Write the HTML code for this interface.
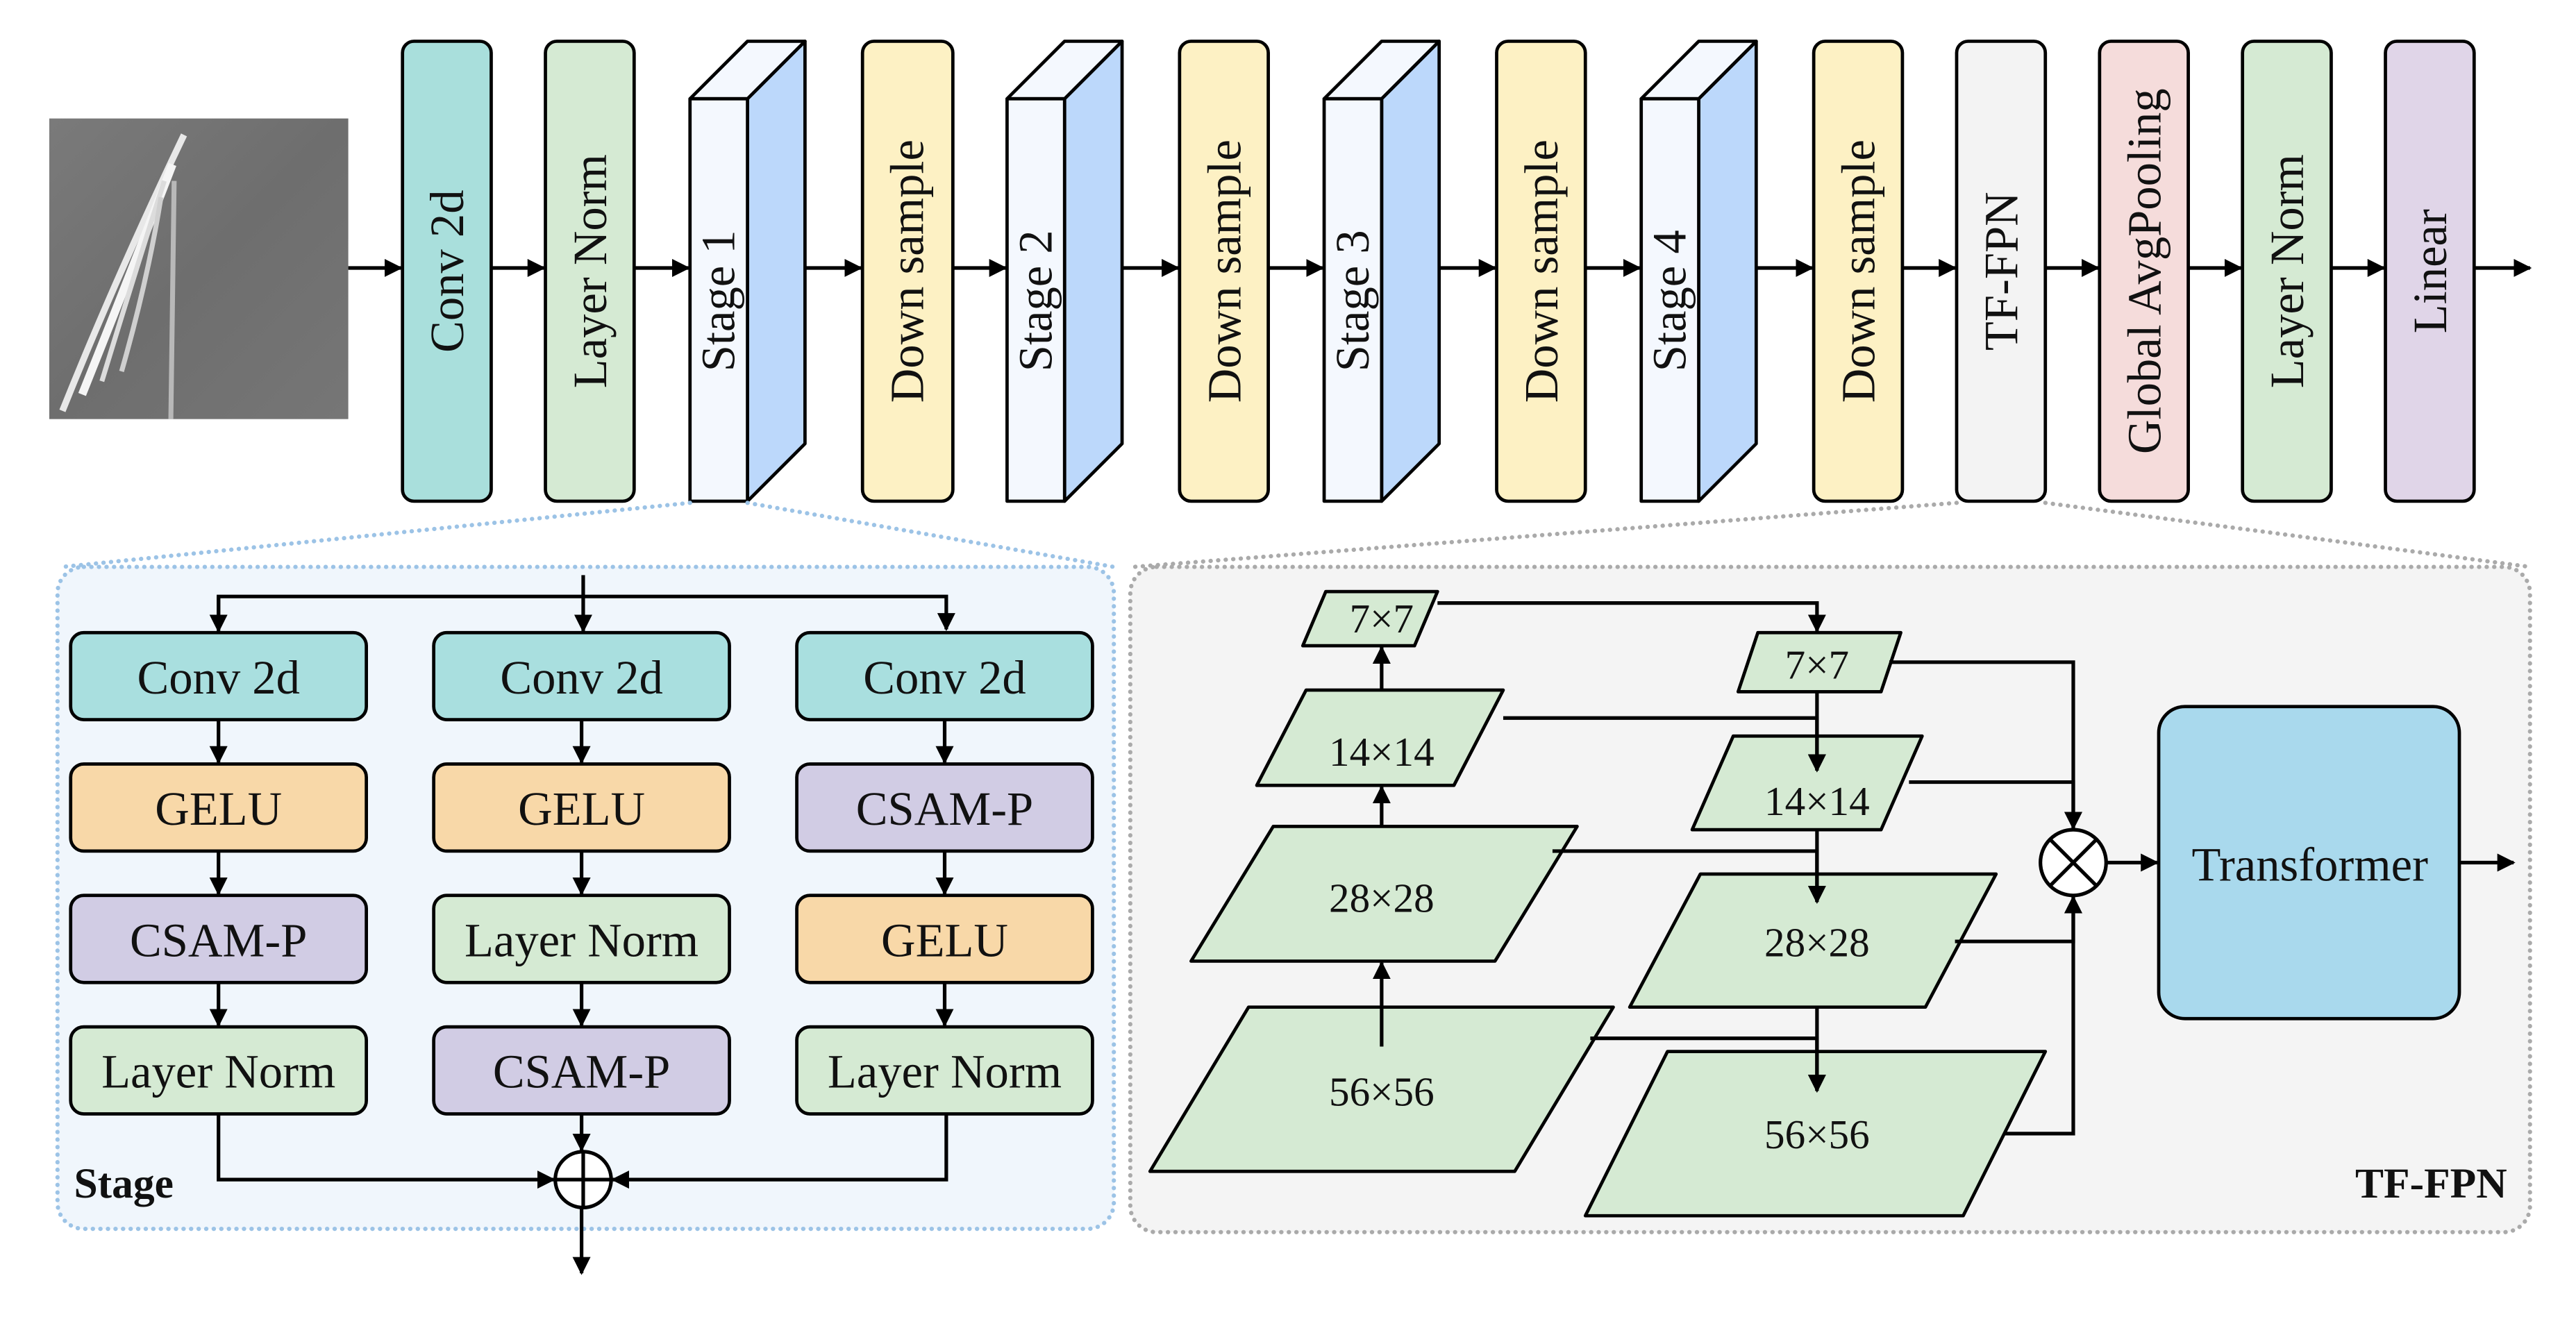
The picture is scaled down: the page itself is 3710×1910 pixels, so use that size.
<!DOCTYPE html>
<html><head><meta charset="utf-8"><style>
html,body{margin:0;padding:0;background:#fff}
svg{display:block}
text{font-family:"Liberation Serif","Times New Roman",serif;fill:#111}
</style></head><body>
<svg width="3710" height="1910" viewBox="0 0 1568 807" xmlns="http://www.w3.org/2000/svg" font-family="Liberation Serif, serif">
<defs>
<marker id="a" viewBox="0 0 10 10" refX="9" refY="5" markerWidth="5" markerHeight="5" orient="auto"><path d="M0,0L10,5L0,10z" fill="#000"/></marker>
<linearGradient id="img" x1="0" y1="0" x2="1" y2="1"><stop offset="0" stop-color="#7a7a7a"/><stop offset="0.5" stop-color="#6e6e6e"/><stop offset="1" stop-color="#767676"/></linearGradient>
</defs>
<rect x="30" y="72" width="182" height="183" fill="url(#img)"/>
<path d="M38,250 Q70,170 112,82" stroke="#e8e8e8" stroke-width="4" fill="none"/>
<path d="M50,240 Q78,170 105,100" stroke="#f5f5f5" stroke-width="5" fill="none"/>
<path d="M62,232 Q84,160 100,110" stroke="#dcdcdc" stroke-width="3" fill="none"/>
<path d="M74,226 Q90,170 98,120" stroke="#cfcfcf" stroke-width="3" fill="none"/>
<path d="M106,110 L104,255" stroke="#b8b8b8" stroke-width="3" fill="none"/>
<g stroke="#000" stroke-width="2.2" fill="none" marker-end="url(#a)">
<line x1="212" y1="163" x2="244" y2="163"/><line x1="299" y1="163" x2="331" y2="163"/>
<line x1="386" y1="163" x2="419" y2="163"/><line x1="490" y1="163" x2="524" y2="163"/>
<line x1="580" y1="163" x2="612" y2="163"/><line x1="683" y1="163" x2="717" y2="163"/>
<line x1="772" y1="163" x2="805" y2="163"/><line x1="876" y1="163" x2="910" y2="163"/>
<line x1="965" y1="163" x2="998" y2="163"/><line x1="1069" y1="163" x2="1103" y2="163"/>
<line x1="1158" y1="163" x2="1190" y2="163"/><line x1="1245" y1="163" x2="1277" y2="163"/>
<line x1="1332" y1="163" x2="1364" y2="163"/><line x1="1419" y1="163" x2="1451" y2="163"/>
<line x1="1506" y1="163" x2="1540" y2="163"/>
</g>
<g stroke="#000" stroke-width="2">
<rect x="245" y="25" width="54" height="280" rx="7" fill="#a9dfdc"/>
<rect x="332" y="25" width="54" height="280" rx="7" fill="#d5ead3"/>
<rect x="525" y="25" width="55" height="280" rx="7" fill="#fdf1c4"/>
<rect x="718" y="25" width="54" height="280" rx="7" fill="#fdf1c4"/>
<rect x="911" y="25" width="54" height="280" rx="7" fill="#fdf1c4"/>
<rect x="1104" y="25" width="54" height="280" rx="7" fill="#fdf1c4"/>
<rect x="1191" y="25" width="54" height="280" rx="7" fill="#f3f3f3"/>
<rect x="1278" y="25" width="54" height="280" rx="7" fill="#f5dcdb"/>
<rect x="1365" y="25" width="54" height="280" rx="7" fill="#d5ead3"/>
<rect x="1452" y="25" width="54" height="280" rx="7" fill="#e0d5e8"/>
</g>
<g stroke="#000" stroke-width="2" stroke-linejoin="round">
<g><path d="M455,60 L490,25 L490,270 L455,305z" fill="#bcd8fb"/><path d="M420,60 L455,25 L490,25 L455,60z" fill="#f4f8fe"/><rect x="420" y="60" width="35" height="245" fill="#f4f8fe"/></g>
<g transform="translate(193,0)"><path d="M455,60 L490,25 L490,270 L455,305z" fill="#bcd8fb"/><path d="M420,60 L455,25 L490,25 L455,60z" fill="#f4f8fe"/><rect x="420" y="60" width="35" height="245" fill="#f4f8fe"/></g>
<g transform="translate(386,0)"><path d="M455,60 L490,25 L490,270 L455,305z" fill="#bcd8fb"/><path d="M420,60 L455,25 L490,25 L455,60z" fill="#f4f8fe"/><rect x="420" y="60" width="35" height="245" fill="#f4f8fe"/></g>
<g transform="translate(579,0)"><path d="M455,60 L490,25 L490,270 L455,305z" fill="#bcd8fb"/><path d="M420,60 L455,25 L490,25 L455,60z" fill="#f4f8fe"/><rect x="420" y="60" width="35" height="245" fill="#f4f8fe"/></g>
</g>
<g font-size="29" text-anchor="middle">
<text transform="translate(282,165) rotate(-90)">Conv 2d</text>
<text transform="translate(369,165) rotate(-90)">Layer Norm</text>
<text transform="translate(447,183) rotate(-90)">Stage 1</text>
<text transform="translate(562,165) rotate(-90)">Down sample</text>
<text transform="translate(640,183) rotate(-90)">Stage 2</text>
<text transform="translate(755,165) rotate(-90)">Down sample</text>
<text transform="translate(833,183) rotate(-90)">Stage 3</text>
<text transform="translate(948,165) rotate(-90)">Down sample</text>
<text transform="translate(1026,183) rotate(-90)">Stage 4</text>
<text transform="translate(1141,165) rotate(-90)">Down sample</text>
<text transform="translate(1228,165) rotate(-90)">TF-FPN</text>
<text transform="translate(1315,165) rotate(-90)">Global AvgPooling</text>
<text transform="translate(1402,165) rotate(-90)">Layer Norm</text>
<text transform="translate(1489,165) rotate(-90)">Linear</text>
</g>
<g stroke-dasharray="0.1,4.5" stroke-width="2.6" fill="none" stroke-linecap="round">
<line x1="420" y1="306" x2="38" y2="345" stroke="#9cc3e6"/>
<line x1="455" y1="306" x2="678" y2="345" stroke="#9cc3e6"/>
<line x1="1191" y1="306" x2="690" y2="345" stroke="#aaa"/>
<line x1="1245" y1="306" x2="1540" y2="345" stroke="#aaa"/>
<rect x="35" y="345" width="643" height="403" rx="16" fill="#f0f6fc" stroke="#9cc3e6"/>
<rect x="688" y="345" width="852" height="405" rx="16" fill="#f4f4f4" stroke="#aaa"/>
</g>
<g stroke="#000" stroke-width="2.2" fill="none">
<line x1="355" y1="350" x2="355" y2="363"/>
<polyline points="133,383 133,363 576,363 576,383" marker-end="url(#a)"/>
<line x1="133" y1="363" x2="133" y2="384" marker-end="url(#a)"/>
<line x1="355" y1="363" x2="355" y2="384" marker-end="url(#a)"/>
<g marker-end="url(#a)">
<line x1="133" y1="438" x2="133" y2="464"/><line x1="133" y1="518" x2="133" y2="544"/><line x1="133" y1="598" x2="133" y2="624"/>
<line x1="354" y1="438" x2="354" y2="464"/><line x1="354" y1="518" x2="354" y2="544"/><line x1="354" y1="598" x2="354" y2="624"/>
<line x1="575" y1="438" x2="575" y2="464"/><line x1="575" y1="518" x2="575" y2="544"/><line x1="575" y1="598" x2="575" y2="624"/>
<polyline points="133,678 133,718 337,718"/>
<polyline points="576,678 576,718 373,718"/>
<line x1="354" y1="678" x2="354" y2="700"/>
<line x1="354" y1="736" x2="354" y2="775"/>
</g>
<circle cx="355" cy="718" r="17" fill="#fff"/>
<line x1="338" y1="718" x2="372" y2="718"/><line x1="355" y1="701" x2="355" y2="735"/>
</g>
<g stroke="#000" stroke-width="2">
<rect x="43" y="385" width="180" height="53" rx="8" fill="#a9dfdf"/>
<rect x="43" y="465" width="180" height="53" rx="8" fill="#f8d8a8"/>
<rect x="43" y="545" width="180" height="53" rx="8" fill="#d1cce4"/>
<rect x="43" y="625" width="180" height="53" rx="8" fill="#d5ead3"/>
<rect x="264" y="385" width="180" height="53" rx="8" fill="#a9dfdf"/>
<rect x="264" y="465" width="180" height="53" rx="8" fill="#f8d8a8"/>
<rect x="264" y="545" width="180" height="53" rx="8" fill="#d5ead3"/>
<rect x="264" y="625" width="180" height="53" rx="8" fill="#d1cce4"/>
<rect x="485" y="385" width="180" height="53" rx="8" fill="#a9dfdf"/>
<rect x="485" y="465" width="180" height="53" rx="8" fill="#d1cce4"/>
<rect x="485" y="545" width="180" height="53" rx="8" fill="#f8d8a8"/>
<rect x="485" y="625" width="180" height="53" rx="8" fill="#d5ead3"/>
</g>
<g font-size="29" text-anchor="middle">
<text x="133" y="422">Conv 2d</text><text x="133" y="502">GELU</text><text x="133" y="582">CSAM-P</text><text x="133" y="662">Layer Norm</text>
<text x="354" y="422">Conv 2d</text><text x="354" y="502">GELU</text><text x="354" y="582">Layer Norm</text><text x="354" y="662">CSAM-P</text>
<text x="575" y="422">Conv 2d</text><text x="575" y="502">CSAM-P</text><text x="575" y="582">GELU</text><text x="575" y="662">Layer Norm</text>
</g>
<text x="45" y="729" font-size="26" font-weight="bold">Stage</text>
<g stroke="#000" stroke-width="2" fill="#d5ead3" stroke-linejoin="round">
<path d="M793,393 L807,360 L875,360 L861,393z"/>
<path d="M765,478 L795,420 L915,420 L885,478z"/>
<path d="M725,585 L775,503 L960,503 L910,585z"/>
<path d="M700,713 L760,613 L982,613 L922,713z"/>
<path d="M1058,421 L1070,385 L1157,385 L1145,421z"/>
<path d="M1030,505 L1055,448 L1170,448 L1145,505z"/>
<path d="M992,613 L1035,532 L1215,532 L1172,613z"/>
<path d="M965,740 L1015,640 L1245,640 L1195,740z"/>
</g>
<g stroke="#000" stroke-width="2.2" fill="none" marker-end="url(#a)">
<line x1="841" y1="420" x2="841" y2="394"/><line x1="841" y1="503" x2="841" y2="479"/><line x1="841" y1="637" x2="841" y2="586"/>
<polyline points="875,367 1106,367 1106,384"/>
<polyline points="915,437 1106,437 1106,469"/>
<polyline points="945,518 1106,518 1106,549"/>
<polyline points="968,632 1106,632 1106,664"/>
<line x1="1106" y1="421" x2="1106" y2="469"/><line x1="1106" y1="505" x2="1106" y2="549"/><line x1="1106" y1="613" x2="1106" y2="664"/>
<polyline points="1150,403 1262,403 1262,504"/>
<polyline points="1162,476 1262,476 1262,504"/>
<polyline points="1190,573 1262,573 1262,546"/>
<polyline points="1220,690 1262,690 1262,546"/>
<line x1="1282" y1="525" x2="1313" y2="525"/>
<line x1="1497" y1="525" x2="1530" y2="525"/>
</g>
<circle cx="1262" cy="525" r="20" fill="#fff" stroke="#000" stroke-width="2.2"/>
<line x1="1248" y1="511" x2="1276" y2="539" stroke="#000" stroke-width="2.2"/>
<line x1="1276" y1="511" x2="1248" y2="539" stroke="#000" stroke-width="2.2"/>
<rect x="1314" y="430" width="183" height="190" rx="16" fill="#a9d9ed" stroke="#000" stroke-width="2"/>
<g font-size="25" text-anchor="middle">
<text x="841" y="385">7×7</text><text x="841" y="466">14×14</text><text x="841" y="555">28×28</text><text x="841" y="673">56×56</text>
<text x="1106" y="413">7×7</text><text x="1106" y="496">14×14</text><text x="1106" y="582">28×28</text><text x="1106" y="699">56×56</text>
</g>
<text x="1406" y="536" font-size="29" text-anchor="middle">Transformer</text>
<text x="1526" y="729" font-size="26" font-weight="bold" text-anchor="end">TF-FPN</text>
</svg>
</body></html>
